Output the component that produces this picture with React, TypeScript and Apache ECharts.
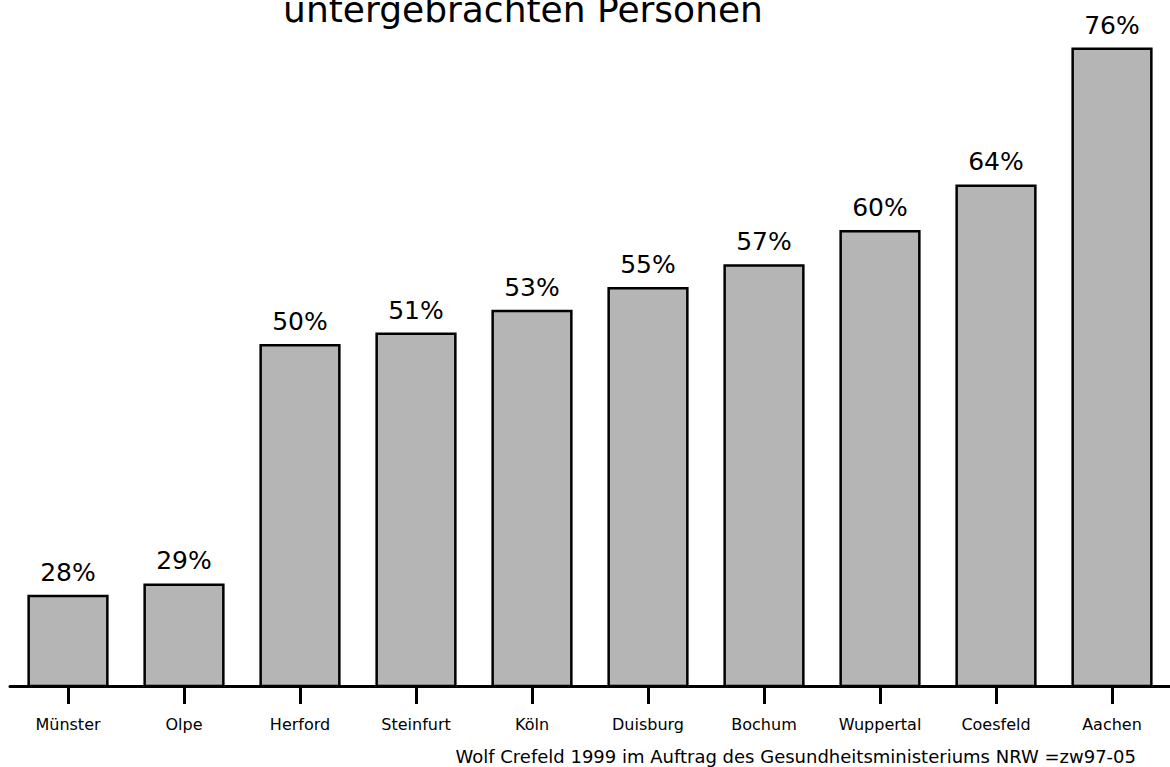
import React, { useEffect, useRef } from "react";
import * as echarts from "echarts";

const categories = ["Münster", "Olpe", "Herford", "Steinfurt", "Köln", "Duisburg", "Bochum", "Wuppertal", "Coesfeld", "Aachen"];
const values = [28, 29, 50, 51, 53, 55, 57, 60, 64, 76];
const titleText = "untergebrachten Personen";
const footerText = "Wolf Crefeld 1999 im Auftrag des Gesundheitsministeriums NRW =zw97-05";

const FONT = "DejaVu Sans";

export default function App() {
  const ref = useRef<HTMLDivElement>(null);
  useEffect(() => {
    if (!ref.current) return;
    const chart = echarts.init(ref.current, null, { renderer: "svg" });
    chart.setOption({
      animation: false,
      backgroundColor: "#ffffff",
      textStyle: { fontFamily: FONT },
      grid: { left: 10, right: 0, top: 2, bottom: 81, containLabel: false },
      xAxis: {
        type: "category",
        data: categories,
        axisLine: { show: true, lineStyle: { color: "#000", width: 3 } },
        axisTick: { show: true, length: 18, alignWithLabel: true, lineStyle: { color: "#000", width: 3 } },
        axisLabel: { color: "#000", fontSize: 16, margin: 30, fontFamily: FONT },
      },
      yAxis: {
        type: "value",
        min: 20,
        max: 80,
        show: false,
        splitLine: { show: false },
      },
      series: [
        {
          type: "bar",
          data: values,
          barWidth: "70%",
          itemStyle: { color: "#b5b5b5", borderColor: "#000", borderWidth: 2.5 },
          label: {
            show: true,
            position: "top",
            distance: 10,
            formatter: "{c}%",
            color: "#000",
            fontSize: 25,
            fontFamily: FONT,
          },
        },
      ],
      graphic: [
        {
          type: "text",
          x: 523,
          y: 27,
          style: {
            text: titleText,
            fontSize: 36,
            fontFamily: FONT,
            fill: "#000",
            textAlign: "center",
            textVerticalAlign: "bottom",
          },
        },
        {
          type: "text",
          x: 1136,
          y: 765,
          style: {
            text: footerText,
            fontSize: 18,
            fontFamily: FONT,
            fill: "#000",
            textAlign: "right",
            textVerticalAlign: "bottom",
          },
        },
      ],
    });
    return () => chart.dispose();
  }, []);
  return <div ref={ref} style={{ width: 1170, height: 767, position: "absolute", left: 0, top: 0 }} />;
}
